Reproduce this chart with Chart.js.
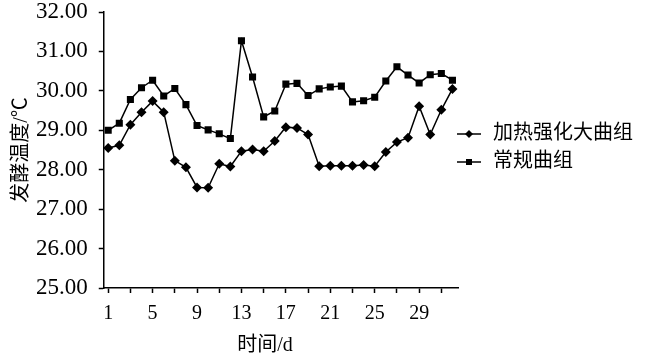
<!DOCTYPE html>
<html>
<head>
<meta charset="utf-8">
<script src="https://cdn.jsdelivr.net/npm/chart.js@4.4.0/dist/chart.umd.min.js"></script>
<style>
  html, body { margin: 0; padding: 0; background: #fff; }
</style>
</head>
<body>
<canvas id="c" width="647" height="360"></canvas>
<script>
// 发酵温度数据 (℃), 第1天到第32天
var days = [1, 2, 3, 4, 5, 6, 7, 8, 9, 10, 11, 12, 13, 14, 15, 16,
            17, 18, 19, 20, 21, 22, 23, 24, 25, 26, 27, 28, 29, 30, 31, 32];
var heatedTemps = [28.55, 28.62, 29.14, 29.46, 29.74, 29.46, 28.23, 28.06, 27.55, 27.54, 28.15, 28.08, 28.47, 28.51, 28.47, 28.73,
                   29.08, 29.06, 28.89, 28.09, 28.10, 28.10, 28.10, 28.12, 28.09, 28.45, 28.70, 28.81, 29.61, 28.89, 29.52, 30.05];
var normalTemps = [29.00, 29.18, 29.78, 30.08, 30.27, 29.87, 30.06, 29.65, 29.12, 29.01, 28.91, 28.79, 31.27, 30.35, 29.34, 29.49,
                   30.17, 30.19, 29.88, 30.05, 30.10, 30.12, 29.72, 29.75, 29.84, 30.25, 30.61, 30.40, 30.20, 30.41, 30.44, 30.27];
var seriesNames = ['加热强化大曲组', '常规曲组'];
var xTickDays = [1, 3, 5, 7, 9, 11, 13, 15, 17, 19, 21, 23, 25, 27, 29, 31];
var xLabelDays = [1, 5, 9, 13, 17, 21, 25, 29];
var yMin = 25, yMax = 32, yStep = 1;

var fontStack = '"Liberation Serif", "Noto Sans CJK SC", serif';
Chart.defaults.color = '#000';

function toPoints(vals) {
    return vals.map(function(v, i) { return { x: days[i], y: v }; });
}

// legend drawn on the right, line + marker like the original
var sideLegend = {
    id: 'sideLegend',
    afterDraw: function(chart) {
        var ctx = chart.ctx;
        var items = [
            { text: seriesNames[0], style: 'diamond' },
            { text: seriesNames[1], style: 'square' }
        ];
        ctx.save();
        ctx.font = '20px ' + fontStack;
        ctx.textBaseline = 'middle';
        ctx.fillStyle = '#000';
        ctx.strokeStyle = '#000';
        ctx.lineWidth = 1.5;
        items.forEach(function(it, i) {
            var y = 134 + i * 28;
            ctx.beginPath();
            ctx.moveTo(457, y);
            ctx.lineTo(481, y);
            ctx.stroke();
            ctx.beginPath();
            if (it.style === 'diamond') {
                ctx.moveTo(469, y - 4);
                ctx.lineTo(473, y);
                ctx.lineTo(469, y + 4);
                ctx.lineTo(465, y);
                ctx.closePath();
            } else {
                ctx.rect(466, y - 3, 6, 6);
            }
            ctx.fill();
            ctx.fillText(it.text, 493, y);
        });
        // x axis title
        ctx.textAlign = 'center';
        ctx.fillText('时间/d', 265, 346);
        ctx.restore();
    }
};

new Chart(document.getElementById('c'), {
    type: 'line',
    data: {
        datasets: [
            {
                label: seriesNames[0],
                data: toPoints(heatedTemps),
                borderColor: '#000',
                borderWidth: 1.5,
                backgroundColor: '#000',
                pointStyle: 'rectRot',
                pointRadius: 5,
                pointBorderWidth: 0,
                pointBackgroundColor: '#000',
                tension: 0
            },
            {
                label: seriesNames[1],
                data: toPoints(normalTemps),
                borderColor: '#000',
                borderWidth: 1.5,
                backgroundColor: '#000',
                pointStyle: 'rect',
                pointRadius: 5,
                pointBorderWidth: 0,
                pointBackgroundColor: '#000',
                tension: 0
            }
        ]
    },
    options: {
        responsive: false,
        animation: false,
        layout: { padding: { left: 10, right: 189, top: 0, bottom: 25 } },
        plugins: {
            legend: { display: false },
            tooltip: { enabled: false }
        },
        scales: {
            x: {
                type: 'linear',
                min: 0.6,
                max: 32.5,
                border: { display: true, color: '#000', width: 1.5 },
                grid: { drawOnChartArea: false, drawTicks: true, tickLength: 5, tickColor: '#000', tickWidth: 1.5 },
                afterBuildTicks: function(scale) {
                    scale.ticks = xTickDays.map(function(v) { return { value: v }; });
                },
                ticks: {
                    autoSkip: false,
                    maxRotation: 0,
                    padding: 9,
                    font: { family: fontStack, size: 20 },
                    callback: function(v) { return xLabelDays.indexOf(v) >= 0 ? String(v) : ''; }
                }
            },
            y: {
                min: yMin,
                max: yMax,
                border: { display: true, color: '#000', width: 1.5 },
                grid: { drawOnChartArea: false, drawTicks: true, tickLength: 5, tickColor: '#000', tickWidth: 1.5 },
                afterFit: function(scale) {
                    // keep the plot top close to the edge and the title near the labels
                    scale.paddingTop = 12;
                    scale.paddingBottom = 12;
                    scale.width -= 11;
                },
                ticks: {
                    stepSize: yStep,
                    padding: 11,
                    font: { family: fontStack, size: 23 },
                    callback: function(v) { return v.toFixed(2); }
                },
                title: {
                    display: true,
                    text: '发酵温度/℃',
                    font: { family: fontStack, size: 20 },
                    padding: { top: 0, bottom: 2 }
                }
            }
        }
    },
    plugins: [sideLegend]
});
</script>
</body>
</html>
